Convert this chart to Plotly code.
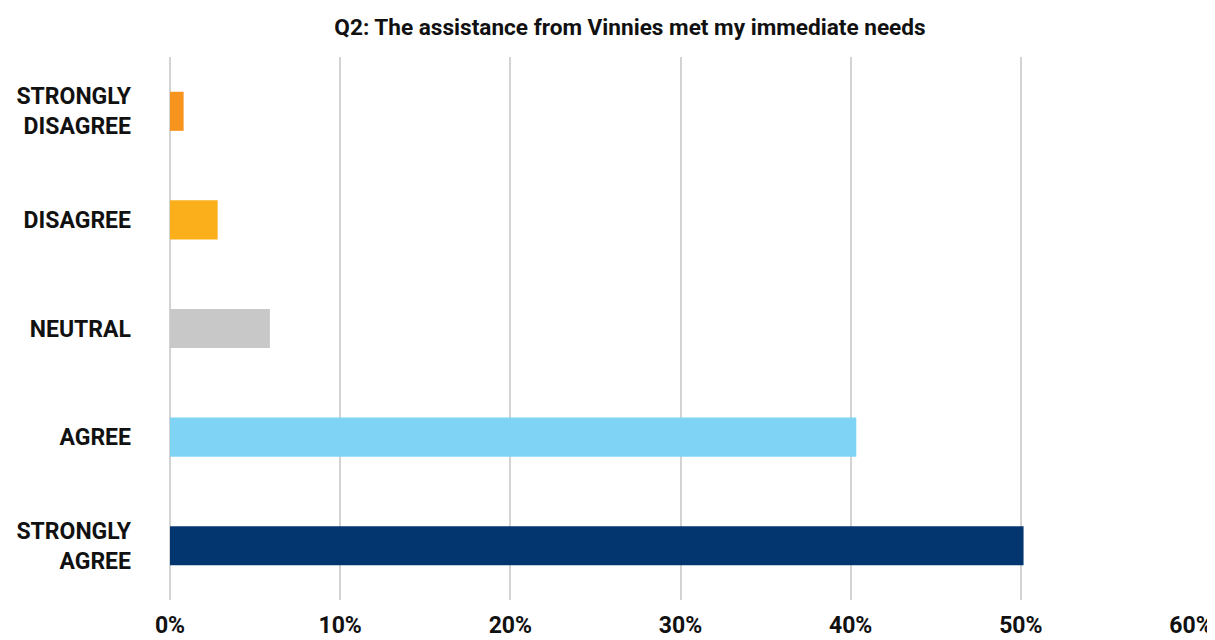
import plotly.graph_objects as go

# Survey responses, top to bottom as shown in the chart
categories = ["STRONGLY<br>DISAGREE", "DISAGREE", "NEUTRAL", "AGREE", "STRONGLY<br>AGREE"]
shares = [0.008, 0.028, 0.0587, 0.4033, 0.5016]
bar_colors = ["#F7941D", "#FBB01B", "#C8C8C8", "#7FD4F5", "#03366F"]

tick_vals = [0, 0.1, 0.2, 0.3, 0.4, 0.5, 0.6]
tick_text = ["0%", "10%", "20%", "30%", "40%", "50%", "60%"]

title_text = "Q2: The assistance from Vinnies met my immediate needs"

font_family = "Roboto"

# page body has an 8px default margin, so the figure is shrunk by that much
fig_w, fig_h = 1207, 632

fig = go.Figure(
    data=[
        go.Bar(
            x=shares,
            y=categories,
            orientation="h",
            marker=dict(color=bar_colors, line=dict(width=0)),
            hovertemplate="%{y}: %{x:.1%}<extra></extra>",
        )
    ]
)

fig.update_layout(
    width=fig_w,
    height=fig_h,
    paper_bgcolor="white",
    plot_bgcolor="white",
    margin=dict(l=162, r=24, t=49, b=40),
    bargap=0.64,
    showlegend=False,
    title=dict(
        text=title_text,
        x=622 / fig_w,
        xanchor="center",
        y=1 - 19 / fig_h,
        yanchor="middle",
        font=dict(family=font_family, size=22.6, color="#111111", weight="bold"),
    ),
    font=dict(family=font_family, color="#111111"),
)

fig.update_xaxes(
    range=[0, 0.6],
    tickvals=tick_vals,
    ticktext=tick_text,
    showgrid=True,
    gridcolor="#D3D3D3",
    gridwidth=1.5,
    zeroline=True,
    zerolinecolor="#D3D3D3",
    zerolinewidth=1.5,
    showline=False,
    ticks="",
    ticklabelstandoff=9,
    tickfont=dict(family=font_family, size=23, color="#111111", weight="bold"),
    automargin=False,
    fixedrange=True,
)

fig.update_yaxes(
    categoryorder="array",
    categoryarray=categories[::-1],
    showgrid=False,
    zeroline=False,
    showline=False,
    ticks="",
    ticklabelstandoff=38,
    tickfont=dict(family=font_family, size=23, color="#111111", weight="bold"),
    automargin=False,
    fixedrange=True,
)

fig.write_html("out.html")
